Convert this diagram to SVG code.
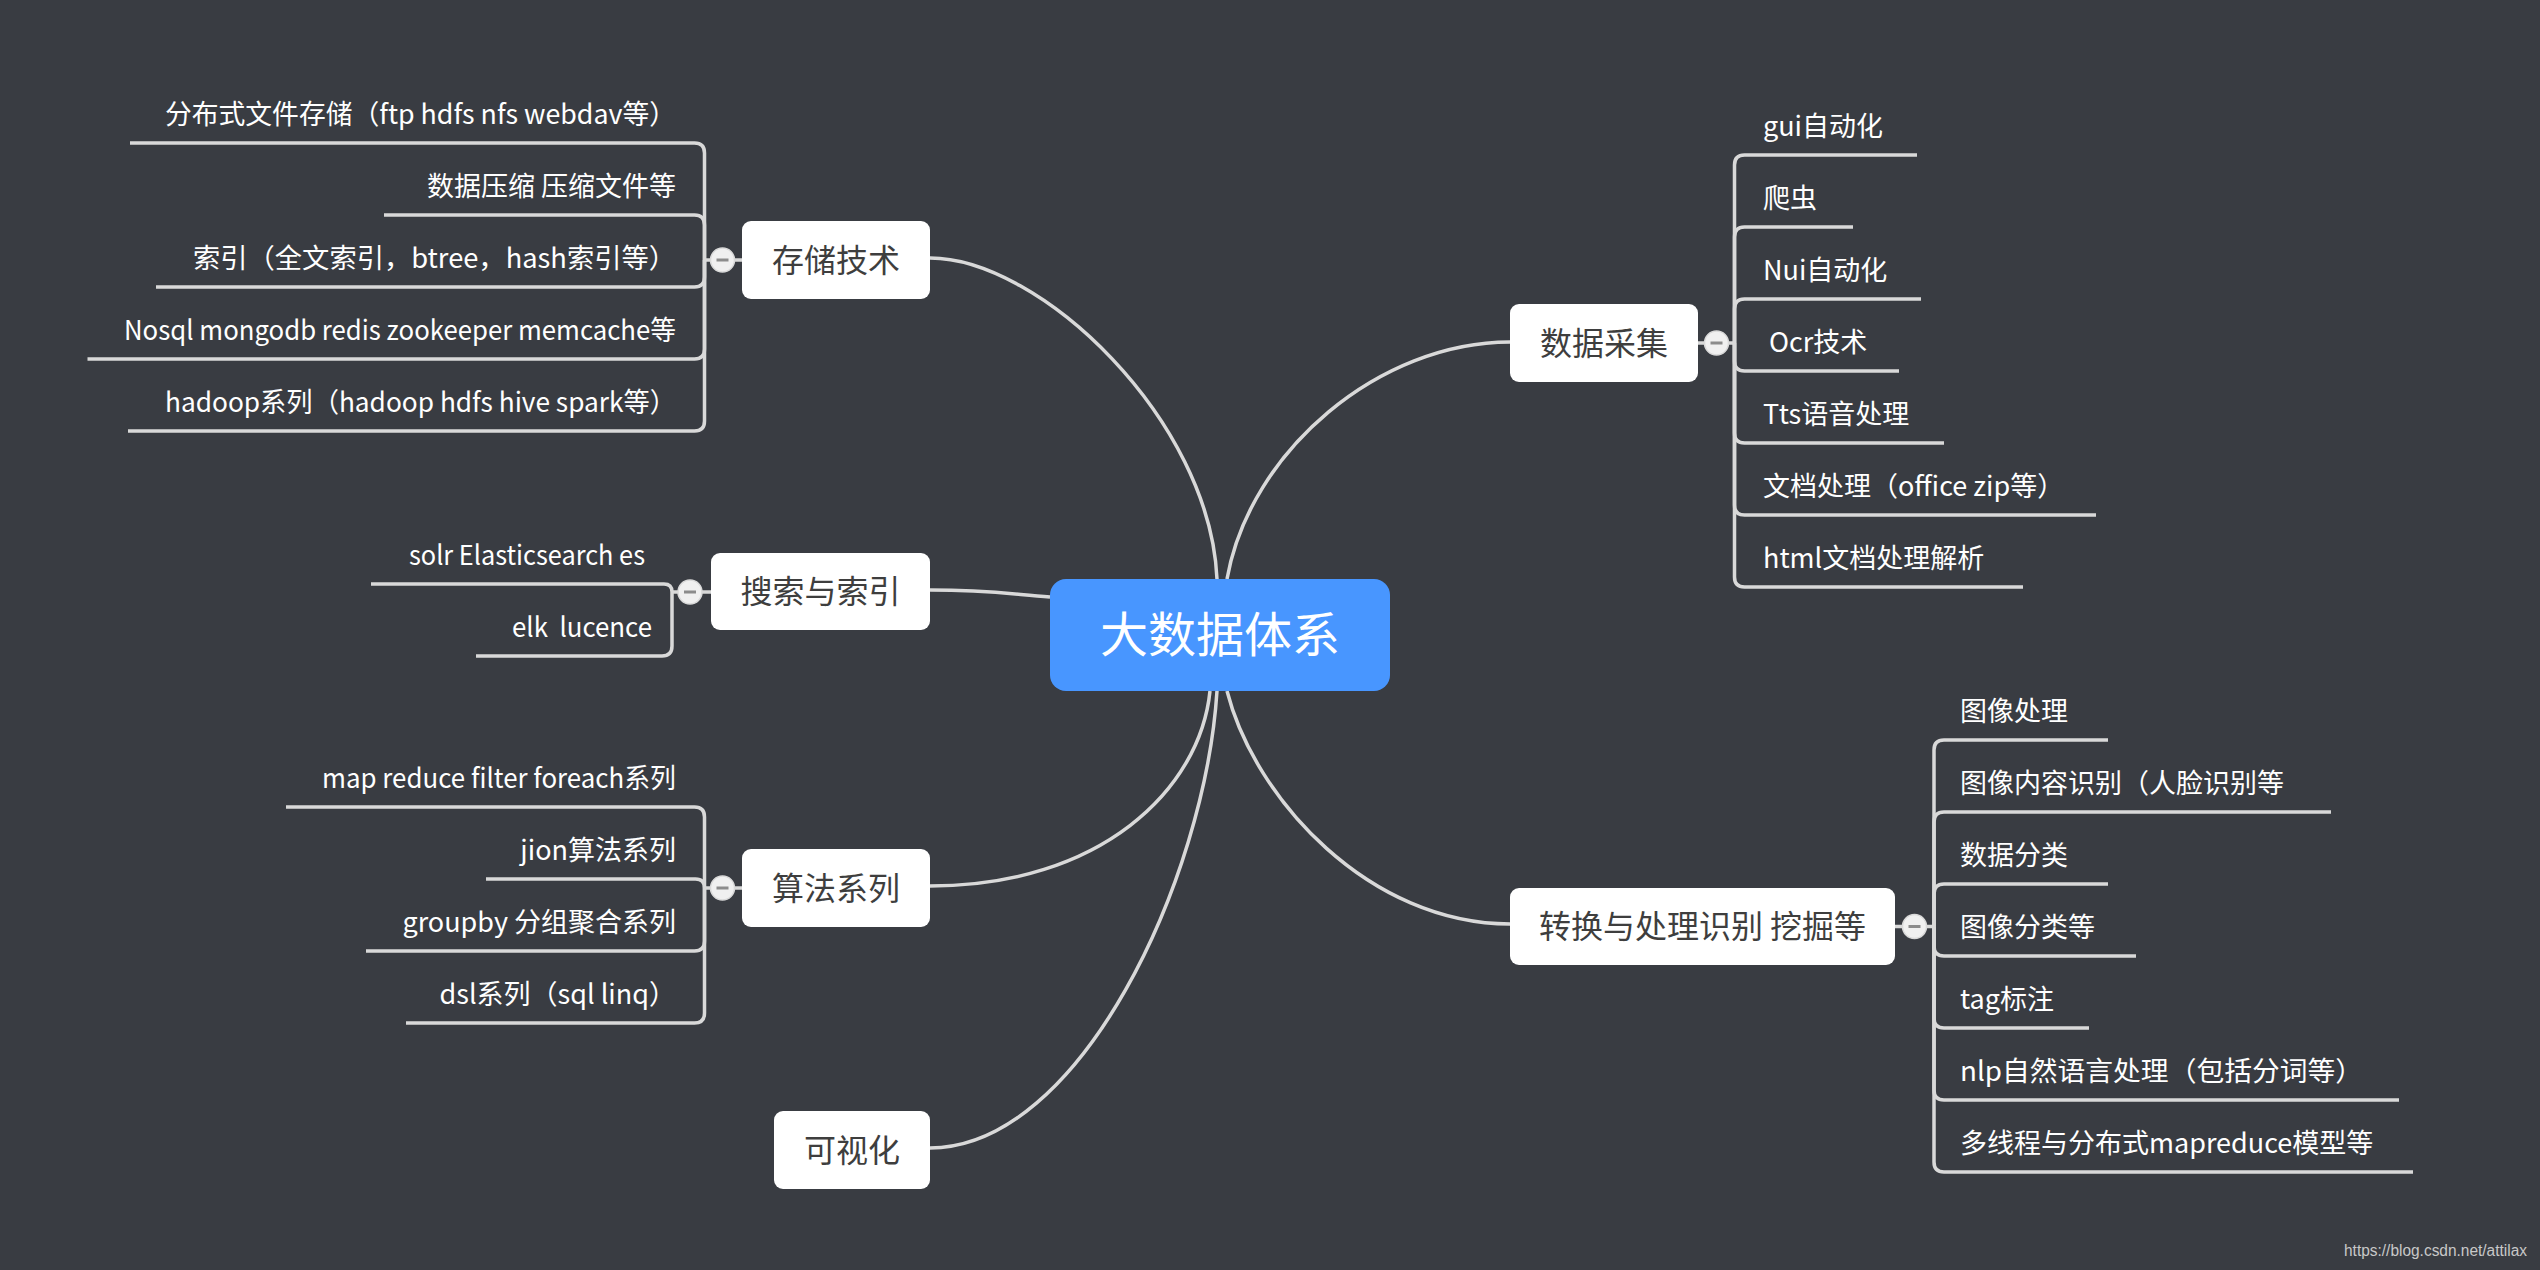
<svg xmlns="http://www.w3.org/2000/svg" width="2540" height="1270" viewBox="0 0 2540 1270">
<style>
.link{fill:none;stroke:#D9D9D9;stroke-width:3.5;stroke-linecap:butt}
.box{fill:#FFFFFF}
.btxt{font-family:"Noto Sans CJK SC","Noto Sans",sans-serif;font-size:32px;fill:#3E3E3E;text-anchor:middle;dominant-baseline:central}
.item{font-family:"Noto Sans CJK SC","Noto Sans",sans-serif;font-size:27px;fill:#FFFFFF;dominant-baseline:central;white-space:pre}
.r{text-anchor:end}
.tog{fill:#F0F0F0;stroke:#D9D9D9;stroke-width:1.5}
.minus{stroke:#8C8C8C;stroke-width:3}
</style>
<rect width="2540" height="1270" fill="#393C42"/>
<g id="connectors">
<path class="link" d="M930,258 C1040,258 1210,420 1217,579"/>
<path class="link" d="M930,590 C990,590 1010,594 1050,597"/>
<path class="link" d="M930,886 C1100,886 1200,790 1210,691"/>
<path class="link" d="M930,1148 C1080,1148 1205,880 1217,691"/>
<path class="link" d="M1510,342 C1380,342 1250,450 1227,579"/>
<path class="link" d="M1510,924 C1370,924 1255,800 1227,691"/>
<path class="link" d="M742,260 H704.5"/>
<path class="link" d="M704.5,260 V153 Q704.5,143 694.5,143 H130"/>
<path class="link" d="M704.5,260 V225 Q704.5,215 694.5,215 H384"/>
<path class="link" d="M704.5,260 V277 Q704.5,287 694.5,287 H156"/>
<path class="link" d="M704.5,260 V349 Q704.5,359 694.5,359 H87.5"/>
<path class="link" d="M704.5,260 V421 Q704.5,431 694.5,431 H128"/>
<path class="link" d="M711,592 H672"/>
<path class="link" d="M672,592 Q672,584 664,584 H371"/>
<path class="link" d="M672,592 V646 Q672,656 662,656 H476"/>
<path class="link" d="M742,888 H704.5"/>
<path class="link" d="M704.5,888 V817 Q704.5,807 694.5,807 H286"/>
<path class="link" d="M704.5,888 Q704.5,879 695.5,879 H486"/>
<path class="link" d="M704.5,888 V941 Q704.5,951 694.5,951 H366"/>
<path class="link" d="M704.5,888 V1013 Q704.5,1023 694.5,1023 H406"/>
<path class="link" d="M1697,343 H1734.5"/>
<path class="link" d="M1734.5,343 V165 Q1734.5,155 1744.5,155 H1917"/>
<path class="link" d="M1734.5,343 V237 Q1734.5,227 1744.5,227 H1853"/>
<path class="link" d="M1734.5,343 V309 Q1734.5,299 1744.5,299 H1921"/>
<path class="link" d="M1734.5,343 V361 Q1734.5,371 1744.5,371 H1899"/>
<path class="link" d="M1734.5,343 V433 Q1734.5,443 1744.5,443 H1944"/>
<path class="link" d="M1734.5,343 V505 Q1734.5,515 1744.5,515 H2096"/>
<path class="link" d="M1734.5,343 V577 Q1734.5,587 1744.5,587 H2023"/>
<path class="link" d="M1895,926.5 H1934"/>
<path class="link" d="M1934,926.5 V750 Q1934,740 1944,740 H2108"/>
<path class="link" d="M1934,926.5 V822 Q1934,812 1944,812 H2331"/>
<path class="link" d="M1934,926.5 V894 Q1934,884 1944,884 H2108"/>
<path class="link" d="M1934,926.5 V946 Q1934,956 1944,956 H2136"/>
<path class="link" d="M1934,926.5 V1018 Q1934,1028 1944,1028 H2089"/>
<path class="link" d="M1934,926.5 V1090 Q1934,1100 1944,1100 H2399"/>
<path class="link" d="M1934,926.5 V1162 Q1934,1172 1944,1172 H2413"/>
</g>
<g id="center">
<rect x="1050" y="579" width="340" height="112" rx="16" fill="#4896FF"/>
<text x="1220" y="631" font-family="Noto Sans CJK SC, sans-serif" font-size="48" fill="#FFFFFF" text-anchor="middle" dominant-baseline="central">大数据体系</text>
</g>
<g id="storage">
<rect class="box" x="742" y="221" width="188" height="78" rx="9"/>
<text class="btxt" x="836" y="258">存储技术</text>
<circle class="tog" cx="722.5" cy="260" r="12"/><line class="minus" x1="716.5" y1="260" x2="728.5" y2="260"/>
<text class="item r" x="676" y="112" textLength="511" lengthAdjust="spacingAndGlyphs">分布式文件存储（ftp hdfs nfs webdav等）</text>
<text class="item r" x="676" y="184">数据压缩 压缩文件等</text>
<text class="item r" x="676" y="256" textLength="483" lengthAdjust="spacingAndGlyphs">索引（全文索引，btree，hash索引等）</text>
<text class="item r" x="676" y="328" textLength="552" lengthAdjust="spacingAndGlyphs">Nosql mongodb redis zookeeper memcache等</text>
<text class="item r" x="676" y="400" textLength="511" lengthAdjust="spacingAndGlyphs">hadoop系列（hadoop hdfs hive spark等）</text>
</g>
<g id="search">
<rect class="box" x="711" y="553" width="219" height="77" rx="9"/>
<text class="btxt" x="820.5" y="589">搜索与索引</text>
<circle class="tog" cx="690" cy="592" r="12"/><line class="minus" x1="684" y1="592" x2="696" y2="592"/>
<text class="item r" x="645" y="553" textLength="236" lengthAdjust="spacingAndGlyphs">solr Elasticsearch es</text>
<text class="item r" x="652" y="625" textLength="140" lengthAdjust="spacingAndGlyphs">elk  lucence</text>
</g>
<g id="algorithm">
<rect class="box" x="742" y="849" width="188" height="78" rx="9"/>
<text class="btxt" x="836" y="886">算法系列</text>
<circle class="tog" cx="722.5" cy="888" r="12"/><line class="minus" x1="716.5" y1="888" x2="728.5" y2="888"/>
<text class="item r" x="676" y="776" textLength="354" lengthAdjust="spacingAndGlyphs">map reduce filter foreach系列</text>
<text class="item r" x="676" y="848">jion算法系列</text>
<text class="item r" x="676" y="920">groupby 分组聚合系列</text>
<text class="item r" x="676" y="992">dsl系列（sql linq）</text>
</g>
<g id="visual">
<rect class="box" x="774" y="1111" width="156" height="78" rx="9"/>
<text class="btxt" x="852" y="1148">可视化</text>
</g>
<g id="collection">
<rect class="box" x="1510" y="304" width="188" height="78" rx="9"/>
<text class="btxt" x="1604" y="341">数据采集</text>
<circle class="tog" cx="1716.5" cy="343" r="12"/><line class="minus" x1="1710.5" y1="343" x2="1722.5" y2="343"/>
<text class="item" x="1763" y="124">gui自动化</text>
<text class="item" x="1763" y="196">爬虫</text>
<text class="item" x="1763" y="268">Nui自动化</text>
<text class="item" x="1769" y="340">Ocr技术</text>
<text class="item" x="1763" y="412">Tts语音处理</text>
<text class="item" x="1763" y="484">文档处理（office zip等）</text>
<text class="item" x="1763" y="556">html文档处理解析</text>
</g>
<g id="transform">
<rect class="box" x="1510" y="888" width="385" height="77" rx="9"/>
<text class="btxt" x="1702.5" y="924">转换与处理识别 挖掘等</text>
<circle class="tog" cx="1914.5" cy="926.5" r="12"/><line class="minus" x1="1908.5" y1="926.5" x2="1920.5" y2="926.5"/>
<text class="item" x="1960" y="709">图像处理</text>
<text class="item" x="1960" y="781">图像内容识别（人脸识别等</text>
<text class="item" x="1960" y="853">数据分类</text>
<text class="item" x="1960" y="925">图像分类等</text>
<text class="item" x="1960" y="997">tag标注</text>
<text class="item" x="1960" y="1069" textLength="403" lengthAdjust="spacingAndGlyphs">nlp自然语言处理（包括分词等）</text>
<text class="item" x="1960" y="1141">多线程与分布式mapreduce模型等</text>
</g>
<text x="2344" y="1256" font-family="Liberation Sans, sans-serif" font-size="16" fill="#C8C8C8" textLength="183" lengthAdjust="spacingAndGlyphs">https://blog.csdn.net/attilax</text>
</svg>
